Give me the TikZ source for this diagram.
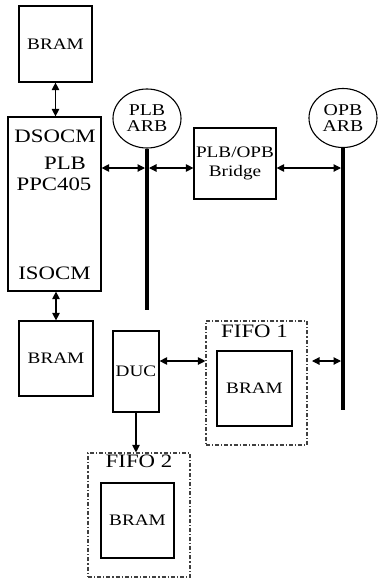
\documentclass[tikz,border=0pt]{standalone}
\usepackage{fontspec}
\setmainfont{Liberation Serif}[FakeStretch=1.2]
\usetikzlibrary{shapes.geometric,arrows.meta}
\begin{document}
\begin{tikzpicture}[x=1pt,y=-1pt,
  box/.style={draw,line width=1.2pt,rectangle,inner sep=0pt},
  fifobox/.style={draw=black!75,line width=1.1pt,rectangle,inner sep=0pt,dash pattern=on 4pt off 2pt on 1.2pt off 2pt},
  arb/.style={draw,line width=1.1pt,ellipse,inner sep=0pt,minimum width=68pt,minimum height=59pt,align=center,font=\fontsize{16.5}{16}\selectfont},
  txt/.style={inner sep=0pt,font=\fontsize{19}{21}\selectfont},
  bus/.style={line width=4pt},
  link/.style={line width=1.1pt,{Triangle[length=7.5pt,width=7.5pt]}-{Triangle[length=7.5pt,width=7.5pt]}},
  onelink/.style={line width=1.1pt,-{Triangle[length=7.5pt,width=7.5pt]}},
  bramtxt/.style={font=\fontsize{16}{18}\selectfont}
]
\useasboundingbox (0,0) rectangle (378,581);
% top BRAM
\node[box,bramtxt,minimum width=73pt,minimum height=76pt] (bram1) at (55.5,44) {BRAM};
% PPC405 block
\node[box,minimum width=93pt,minimum height=174pt] (ppc) at (54.5,204) {};
\node[txt] (ds) at (55,136) {DSOCM};
\node[txt] (plbtxt) at (65,163) {PLB};
\node[txt] (ppctxt) at (54,184) {PPC405};
\node[txt] (is) at (54.5,273) {ISOCM};
% lower left BRAM
\node[box,bramtxt,minimum width=74pt,minimum height=75pt] (bram2) at (56,358.5) {BRAM};
% arbiters
\node[arb] (plbarb) at (147,118.5) {PLB\\ARB};
\node[arb] (opbarb) at (343,118) {OPB\\ARB};
% buses
\coordinate (plbtop) at (plbarb.south);
\coordinate (plbbot) at (147,310);
\coordinate (opbtop) at (opbarb.south);
\coordinate (opbbot) at (343,410);
\draw[bus] (plbtop) -- (plbbot);
\draw[bus] (opbtop) -- (opbbot);
% bridge
\node[box,align=center,minimum width=82pt,minimum height=71pt,font=\fontsize{16}{19}\selectfont] (bridge) at (235,163.5) {PLB/OPB\\Bridge};
% DUC
\node[box,minimum width=46pt,minimum height=81pt,font=\fontsize{16}{18}\selectfont] (duc) at (136,371.5) {DUC};
% FIFO 1
\node[fifobox,minimum width=101pt,minimum height=124pt] (fifo1) at (256.5,383) {};
\node[txt] (f1lab) at (254.5,331.5) {FIFO 1};
\node[box,bramtxt,minimum width=75pt,minimum height=75pt] (bram3) at (254.5,388.5) {BRAM};
% FIFO 2
\node[fifobox,minimum width=102pt,minimum height=124pt] (fifo2) at (139,515) {};
\node[txt] (f2lab) at (139,461) {FIFO 2};
\node[box,bramtxt,minimum width=73pt,minimum height=75pt] (bram4) at (137.5,520.5) {BRAM};
% connection points
\coordinate (plbL) at (145,168);
\coordinate (plbR) at (149,168);
\coordinate (opbL) at (341,168);
\coordinate (opbL2) at (341,361);
\coordinate (f1R) at (312,361);
% arrows
\draw[link] (bram1.south) -- (bram1.south |- ppc.north);
\draw[link] (ppc.south -| bram2.north) -- (bram2.north);
\draw[link] (ppc.east |- plbL) -- (plbL);
\draw[link] (plbR) -- (bridge.west |- plbR);
\draw[link] (bridge.east |- opbL) -- (opbL);
\draw[link] (duc.east |- f1R) -- (fifo1.west |- f1R);
\draw[link] (f1R) -- (opbL2);
\draw[onelink] (duc.south) -- (duc.south |- fifo2.north);
\end{tikzpicture}
\end{document}
